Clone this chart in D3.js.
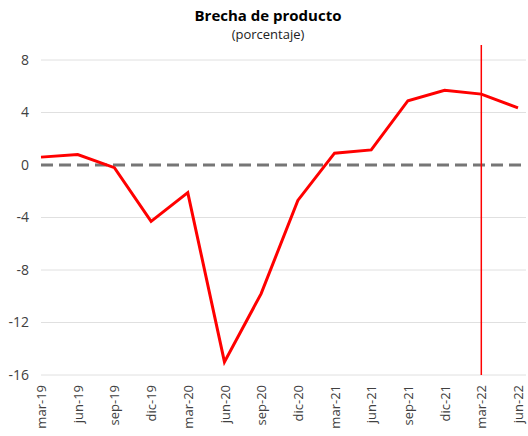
<!DOCTYPE html>
<html>
<head>
<meta charset="utf-8">
<script src="https://cdn.jsdelivr.net/npm/d3@7"></script>
<style>
  body { margin: 0; background: #fff; }
  text { font-family: "Open Sans", "Noto Sans", sans-serif; fill: #404040; }
</style>
</head>
<body>
<div id="app"></div>
<script>
// datos
const periodos = ['mar-19', 'jun-19', 'sep-19', 'dic-19', 'mar-20', 'jun-20', 'sep-20',
  'dic-20', 'mar-21', 'jun-21', 'sep-21', 'dic-21', 'mar-22', 'jun-22'];
const brecha = [0.6, 0.8, -0.2, -4.3, -2.1, -15.0, -9.8, -2.7, 0.9, 1.15, 4.9, 5.7, 5.4, 4.35];
const yTicks = [8, 4, 0, -4, -8, -12, -16];
const marcaVertical = 'mar-22';

const width = 528, height = 436;
const margin = { left: 41, right: 10, top: 60, bottom: 61 };

const svg = d3.select('#app')
  .append('svg')
    .attr('width', width)
    .attr('height', height);

const x = d3.scalePoint()
  .domain(periodos)
  .range([margin.left, width - margin.right]);

const y = d3.scaleLinear()
  .domain([-16, 8])
  .range([height - margin.bottom, margin.top]);

// titulo
svg.append('text')
  .attr('x', 268).attr('y', 21)
  .attr('text-anchor', 'middle')
  .style('font-size', '15px')
  .style('font-weight', 'bold')
  .style('fill', '#000')
  .text('Brecha de producto');

svg.append('text')
  .attr('x', 268).attr('y', 39)
  .attr('text-anchor', 'middle')
  .style('font-size', '13px')
  .style('fill', '#222')
  .text('(porcentaje)');

// grilla
svg.append('g')
  .selectAll('line')
  .data(yTicks.filter(d => d !== 0))
  .join('line')
    .attr('x1', margin.left)
    .attr('x2', width - 2)
    .attr('y1', d => y(d))
    .attr('y2', d => y(d))
    .attr('stroke', '#e0e0e0')
    .attr('stroke-width', 1);

// eje y
const yAxis = svg.append('g')
  .attr('transform', `translate(${margin.left},0)`)
  .call(d3.axisLeft(y).tickValues(yTicks).tickFormat(d => String(d)).tickSize(0).tickPadding(12));
yAxis.select('.domain').remove();
yAxis.selectAll('text')
  .style('font-size', '14px')
  .style('font-family', '"Open Sans", sans-serif')
  .attr('fill', '#404040');

// eje x
const xAxis = svg.append('g')
  .attr('transform', `translate(0,${y(-16)})`)
  .call(d3.axisBottom(x).tickSize(0));
xAxis.select('.domain').remove();
xAxis.selectAll('text')
  .style('font-size', '13px')
  .style('font-family', '"Open Sans", sans-serif')
  .attr('fill', '#404040')
  .attr('text-anchor', 'end')
  .attr('transform', 'rotate(-90)')
  .attr('x', -10)
  .attr('y', 0)
  .attr('dy', '0.35em')
  .attr('dx', 0);

// linea cero
svg.append('line')
  .attr('x1', margin.left)
  .attr('x2', width - 2)
  .attr('y1', y(0))
  .attr('y2', y(0))
  .attr('stroke', '#767676')
  .attr('stroke-width', 3)
  .attr('stroke-dasharray', '12,6');

// linea vertical
svg.append('line')
  .attr('x1', x(marcaVertical))
  .attr('x2', x(marcaVertical))
  .attr('y1', 45)
  .attr('y2', y(-16))
  .attr('stroke', '#ff0000')
  .attr('stroke-width', 1.5);

// serie
const line = d3.line()
  .x((d, i) => x(periodos[i]))
  .y(d => y(d));

svg.append('path')
  .datum(brecha)
  .attr('d', line)
  .attr('fill', 'none')
  .attr('stroke', '#ff0000')
  .attr('stroke-width', 3)
  .attr('stroke-linejoin', 'miter');
</script>
</body>
</html>
